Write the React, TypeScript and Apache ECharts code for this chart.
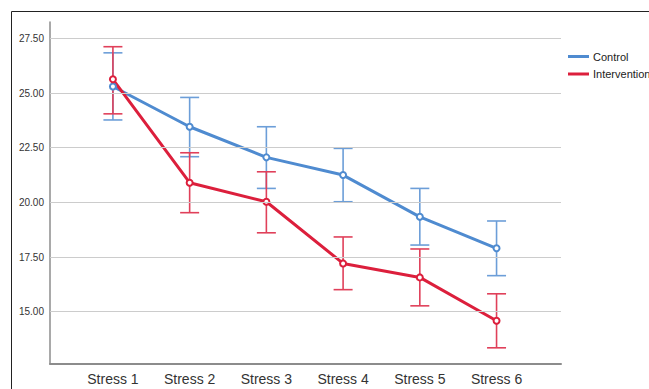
import React, { useEffect, useRef } from "react";
import * as echarts from "echarts";

const categories = ["Stress 1", "Stress 2", "Stress 3", "Stress 4", "Stress 5", "Stress 6"];
const yTicks = [15, 17.5, 20, 22.5, 25, 27.5];
const controlMean = [25.3, 23.46, 22.06, 21.25, 19.34, 17.9];
const controlLow = [23.77, 22.09, 20.64, 20.03, 18.05, 16.65];
const controlHigh = [26.84, 24.8, 23.46, 22.47, 20.64, 19.15];
const interventionMean = [25.63, 20.9, 20.03, 17.21, 16.57, 14.59];
const interventionLow = [24.05, 19.53, 18.61, 16.01, 15.27, 13.35];
const interventionHigh = [27.12, 22.27, 21.4, 18.42, 17.87, 15.82];

const BLUE = "#4f8bd0";
const RED = "#dc1f3c";
const FONT = "'Liberation Sans', Arial, sans-serif";

function errorSeries(name: string, low: number[], high: number[], color: string) {
  return {
    type: "custom",
    name: name + " CI",
    z: 2,
    silent: true,
    data: categories.map((_, i) => [i + 1, low[i], high[i]]),
    renderItem: (_params: any, api: any) => {
      const x = api.value(0);
      const lo = api.coord([x, api.value(1)]);
      const hi = api.coord([x, api.value(2)]);
      const hw = 9.5;
      const style = { stroke: color, lineWidth: 1.6, fill: "none" };
      return {
        type: "group",
        children: [
          { type: "line", shape: { x1: lo[0], y1: lo[1], x2: hi[0], y2: hi[1] }, style },
          { type: "line", shape: { x1: lo[0] - hw, y1: lo[1], x2: lo[0] + hw, y2: lo[1] }, style },
          { type: "line", shape: { x1: hi[0] - hw, y1: hi[1], x2: hi[0] + hw, y2: hi[1] }, style },
        ],
      };
    },
  };
}

export default function App() {
  const ref = useRef<HTMLDivElement>(null);
  useEffect(() => {
    if (!ref.current) return;
    const chart = echarts.init(ref.current, null, { renderer: "svg" });
    chart.setOption({
      animation: false,
      backgroundColor: "#ffffff",
      textStyle: { fontFamily: FONT },
      graphic: [
        {
          type: "rect",
          shape: { x: 11.5, y: 11.5, width: 700, height: 400 },
          style: { fill: "none", stroke: "#222", lineWidth: 1 },
          silent: true,
        },
      ],
      grid: { left: 50, right: 88, top: 22, bottom: 25 },
      legend: {
        orient: "vertical",
        left: 563,
        top: 46,
        itemWidth: 21,
        itemHeight: 3,
        itemGap: 6.5,
        icon: "rect",
        textStyle: { fontSize: 11, color: "#222", fontFamily: FONT, padding: [0, 0, 0, -1] },
        data: ["Control", "Intervention"],
      },
      xAxis: {
        type: "value",
        min: 0.18,
        max: 6.84,
        axisLine: { show: true, lineStyle: { color: "#8c8c8c", width: 2 } },
        axisTick: { show: false },
        splitLine: { show: false },
        axisLabel: {
          customValues: [1, 2, 3, 4, 5, 6],
          formatter: (v: number) => categories[Math.round(v) - 1] || "",
          fontSize: 14,
          color: "#333",
          margin: 8,
          fontFamily: FONT,
        },
      },
      yAxis: {
        type: "value",
        min: 12.61,
        max: 28.25,
        axisLine: { show: true, lineStyle: { color: "#8c8c8c", width: 1.5 } },
        axisTick: { show: false },
        splitLine: { show: false },
        axisLabel: {
          customValues: yTicks,
          formatter: (v: number) => v.toFixed(2),
          fontSize: 10,
          color: "#333",
          margin: 6,
          fontFamily: FONT,
        },
      },
      series: [
        {
          type: "line",
          name: "grid",
          data: [],
          silent: true,
          z: 1,
          markLine: {
            silent: true,
            symbol: "none",
            label: { show: false },
            lineStyle: { color: "#cccccc", width: 1.2, type: "solid" },
            data: yTicks.map((v) => ({ yAxis: v })),
          },
        },
        errorSeries("Control", controlLow, controlHigh, "#6c9ed8"),
        errorSeries("Intervention", interventionLow, interventionHigh, "#e0405a"),
        {
          type: "line",
          name: "Control",
          z: 3,
          data: controlMean.map((v, i) => [i + 1, v]),
          symbol: "emptyCircle",
          symbolSize: 6,
          lineStyle: { color: BLUE, width: 3 },
          itemStyle: { color: BLUE, borderWidth: 1.2 },
        },
        {
          type: "line",
          name: "Intervention",
          z: 3,
          data: interventionMean.map((v, i) => [i + 1, v]),
          symbol: "emptyCircle",
          symbolSize: 6,
          lineStyle: { color: RED, width: 3 },
          itemStyle: { color: RED, borderWidth: 1.2 },
        },
      ],
    });
    return () => chart.dispose();
  }, []);
  return <div ref={ref} style={{ position: "fixed", left: 0, top: 0, width: 649, height: 389 }} />;
}
